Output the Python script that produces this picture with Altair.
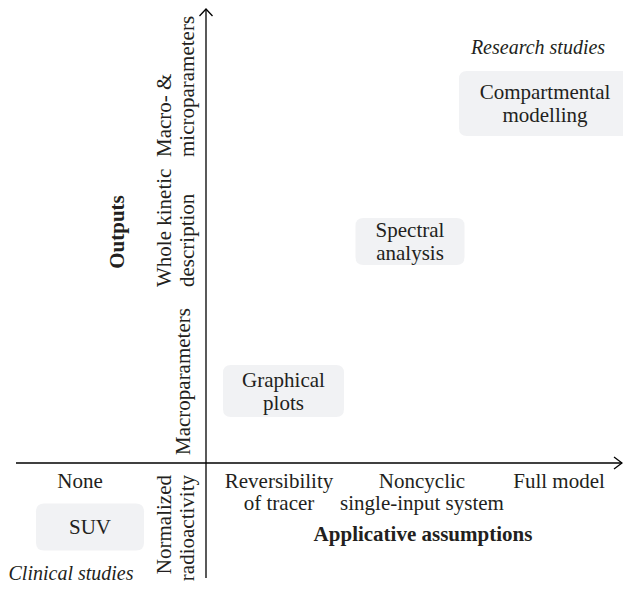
import altair as alt
import pandas as pd

# ---------------- data ----------------
x_levels = ["None", "Reversibility\nof tracer", "Noncyclic\nsingle-input system", "Full model"]
y_levels = ["Normalized\nradioactivity", "Macroparameters", "Whole kinetic\ndescription", "Macro- &\nmicroparameters"]
methods = ["SUV", "Graphical\nplots", "Spectral\nanalysis", "Compartmental\nmodelling"]
method_x = [0, 1, 2, 3]   # index into x_levels
method_y = [0, 1, 2, 3]   # index into y_levels
study_labels = ["Clinical studies", "Research studies"]
axis_titles = ["Applicative assumptions", "Outputs"]

# ---------------- layout / style ----------------
W, H = 615, 576
FONT = "Liberation Serif"
INK = "#231f20"
BOX_FILL = "#f1f2f4"
FS = 21
LH = 23

box_x_range = [82, 275.5, 402, 537]
box_y_range = [519, 383, 233.5, 95.5]
box_size = {"SUV": (108, 47), "Graphical\nplots": (121, 52),
            "Spectral\nanalysis": (109, 47), "Compartmental\nmodelling": (172, 65)}

xlab_x_range = [72, 271, 414, 551]
xlab_baseline = 480

# (x of first-line baseline, anchor y, align) for each y level
ylab_style = [(163, 467, "right"), (182, 447, "left"), (163, 279, "left"), (163, 149, "left")]


def lin(rng):
    return alt.Scale(domain=list(range(len(rng))), range=rng, nice=False, zero=False)


def rounded(w, h, r=8):
    a, b = w / 2, h / 2
    return (f"M {-a + r} {-b} L {a - r} {-b} Q {a} {-b} {a} {-b + r} "
            f"L {a} {b - r} Q {a} {b} {a - r} {b} L {-a + r} {b} "
            f"Q {-a} {b} {-a} {b - r} L {-a} {-b + r} Q {-a} {-b} {-a + r} {-b} Z")


df_m = pd.DataFrame({"method": methods, "xi": method_x, "yi": method_y})
df_x = pd.DataFrame({"label": x_levels, "xi": list(range(len(x_levels)))})
df_y = pd.DataFrame({"label": y_levels, "yi": list(range(len(y_levels)))})
one = pd.DataFrame({"k": [0]})

layers = []

# axes
layers.append(alt.Chart(one).mark_rule(color="black", strokeWidth=1.3).encode(
    x=alt.value(8), x2=alt.value(614), y=alt.value(455)))
layers.append(alt.Chart(one).mark_rule(color="black", strokeWidth=1.3).encode(
    x=alt.value(198), y=alt.value(1), y2=alt.value(570)))
layers.append(alt.Chart(one).mark_point(shape="M -1 1.08 L 0 0 L 1 1.08", size=169, filled=False,
                                         color="black", strokeWidth=1.3, opacity=1).encode(
    x=alt.value(198), y=alt.value(1)))
layers.append(alt.Chart(one).mark_point(shape="M -1.23 -0.92 L 0 0 L -1.23 0.92", size=169, filled=False,
                                         color="black", strokeWidth=1.3, opacity=1).encode(
    x=alt.value(614), y=alt.value(455)))

# boxes
paths = [rounded(*box_size[m]) for m in methods]
layers.append(alt.Chart(df_m).mark_point(filled=True, size=4, opacity=1, color=BOX_FILL).encode(
    x=alt.X("xi:Q", scale=lin(box_x_range), axis=None),
    y=alt.Y("yi:Q", scale=lin(box_y_range), axis=None),
    shape=alt.Shape("method:N", scale=alt.Scale(domain=methods, range=paths), legend=None),
))

# box texts
for m in methods:
    n = m.count("\n") + 1
    dy = 7 - (n - 1) * LH / 2
    layers.append(alt.Chart(df_m).transform_filter(alt.datum.method == m).mark_text(
        font=FONT, fontSize=FS, color=INK, lineBreak="\n", lineHeight=LH,
        align="center", baseline="alphabetic", dy=dy).encode(
        x=alt.X("xi:Q", scale=lin(box_x_range), axis=None),
        y=alt.Y("yi:Q", scale=lin(box_y_range), axis=None),
        text="method:N"))

# x level labels
layers.append(alt.Chart(df_x).mark_text(
    font=FONT, fontSize=FS, color=INK, lineBreak="\n", lineHeight=22,
    align="center", baseline="alphabetic").encode(
    x=alt.X("xi:Q", scale=lin(xlab_x_range), axis=None),
    y=alt.value(xlab_baseline),
    text="label:N"))

# y level labels
for i, lab in enumerate(y_levels):
    xb, ya, al = ylab_style[i]
    layers.append(alt.Chart(df_y).transform_filter(alt.datum.yi == i).mark_text(
        font=FONT, fontSize=FS, color=INK, lineBreak="\n", lineHeight=LH,
        align=al, baseline="alphabetic", angle=270).encode(
        x=alt.value(xb), y=alt.value(ya), text="label:N"))

# axis titles
layers.append(alt.Chart(pd.DataFrame({"t": [axis_titles[0]]})).mark_text(
    font=FONT, fontSize=FS, fontWeight="bold", color=INK, baseline="middle", align="center").encode(
    x=alt.value(415), y=alt.value(527), text="t:N"))
layers.append(alt.Chart(pd.DataFrame({"t": [axis_titles[1]]})).mark_text(
    font=FONT, fontSize=FS, fontWeight="bold", color=INK, baseline="middle", align="center", angle=270).encode(
    x=alt.value(110), y=alt.value(224), text="t:N"))

# study annotations
layers.append(alt.Chart(pd.DataFrame({"t": [study_labels[0]]})).mark_text(
    font=FONT, fontSize=20, fontStyle="italic", color=INK, baseline="middle", align="center").encode(
    x=alt.value(63), y=alt.value(566), text="t:N"))
layers.append(alt.Chart(pd.DataFrame({"t": [study_labels[1]]})).mark_text(
    font=FONT, fontSize=20, fontStyle="italic", color=INK, baseline="middle", align="center").encode(
    x=alt.value(530), y=alt.value(40), text="t:N"))

chart = alt.layer(*layers).resolve_scale(
    x="independent", y="independent"
).properties(
    width=W, height=H, padding=0, autosize=alt.AutoSizeParams(type="none"), background="white"
).configure_view(stroke=None)

chart.save("out.html", embed_options={"renderer": "svg", "actions": False})
